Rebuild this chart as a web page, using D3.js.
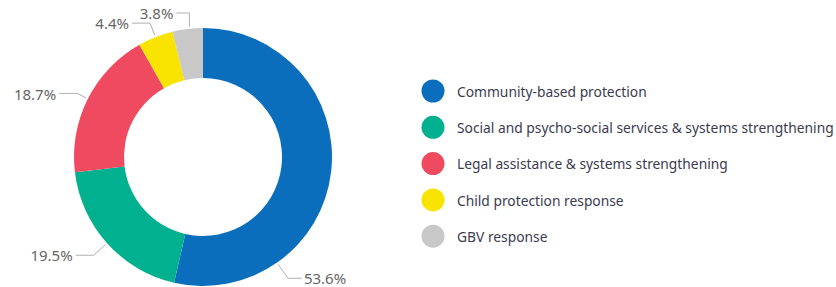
<!DOCTYPE html>
<html>
<head>
<meta charset="utf-8">
<script src="https://cdn.jsdelivr.net/npm/d3@7"></script>
<style>
  body { margin: 0; background: #fff; }
  svg { display: block; font-family: "Noto Sans", "Open Sans", sans-serif; }
</style>
</head>
<body>
<svg id="chart" width="836" height="287"></svg>
<script>
const categories = [
  "Community-based protection",
  "Social and psycho-social services & systems strengthening",
  "Legal assistance & systems strengthening",
  "Child protection response",
  "GBV response"
];
const values = [53.6, 19.5, 18.7, 4.4, 3.8];
const colors = ["#0a6ebd", "#01b08f", "#ef4a60", "#f9e400", "#c8c8c8"];

const width = 836, height = 287;
const cx = 203, cy = 157;
const outerR = 129, innerR = 79;

const svg = d3.select("#chart");

const pie = d3.pie().sort(null).value(d => d.value);
const arc = d3.arc().innerRadius(innerR).outerRadius(outerR);

const data = categories.map((c, i) => ({ name: c, value: values[i], color: colors[i] }));
const arcs = pie(data);

const g = svg.append("g").attr("transform", `translate(${cx},${cy})`);

g.selectAll("path.slice")
  .data(arcs)
  .join("path")
  .attr("class", "slice")
  .attr("d", arc)
  .attr("fill", d => d.data.color);

// leader lines + labels (big first slice label sits lower, like the original)
const labelAngle = (d, i) => i === 0 ? 145 * Math.PI / 180 : (d.startAngle + d.endAngle) / 2;
const elbowR = [outerR + 19, outerR + 18, outerR + 12, outerR + 15, outerR + 16];
const pt = (a, r) => [Math.sin(a) * r, -Math.cos(a) * r];

const labels = g.selectAll("g.lbl")
  .data(arcs)
  .join("g")
  .attr("class", "lbl");

labels.each(function(d, i) {
  const a = labelAngle(d, i);
  const p0 = pt(a, outerR + 2);
  // the thin last slice gets a straight vertical lead
  const p1 = i === 4 ? [p0[0] + 2, -outerR - 15] : pt(a, elbowR[i]);
  if (i === 4) p0[0] = p1[0];
  const right = i === 0;
  const p2 = [p1[0] + (right ? 14 : (i === 4 ? -13 : -18)), p1[1]];
  const sel = d3.select(this);
  sel.append("polyline")
    .attr("points", [p0, p1, p2].map(p => p.join(",")).join(" "))
    .attr("fill", "none")
    .attr("stroke", "#b0b0b0")
    .attr("stroke-width", 1);
  sel.append("text")
    .attr("x", p2[0] + (right ? 2 : -3))
    .attr("y", p2[1] + 1)
    .attr("dy", "0.35em")
    .attr("text-anchor", right ? "start" : "end")
    .attr("fill", "#666")
    .style("font-size", "15px")
    .text(d3.format(".1f")(d.data.value) + "%");
});

// legend
const legend = svg.append("g").attr("transform", "translate(433,91)");
const item = legend.selectAll("g")
  .data(data)
  .join("g")
  .attr("transform", (d, i) => `translate(0,${i * 36.3})`);

item.append("circle")
  .attr("r", 11.5)
  .attr("fill", d => d.color);

item.append("text")
  .attr("x", 24)
  .attr("y", 1)
  .attr("dy", "0.35em")
  .attr("fill", "#3b3b4f")
  .style("font-size", "13.8px")
  .text(d => d.name);
</script>
</body>
</html>
